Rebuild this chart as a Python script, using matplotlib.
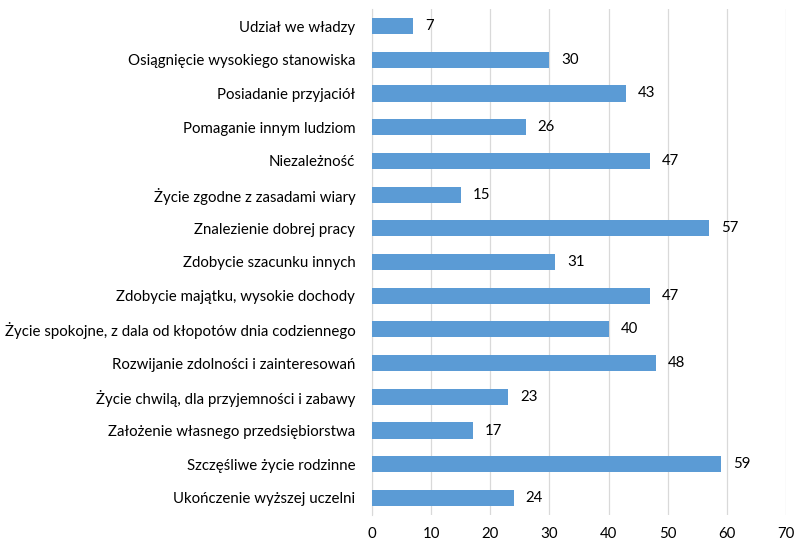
import matplotlib
matplotlib.use("Agg")
import matplotlib.pyplot as plt

# ------------- DATA -------------
categories = [
    "Udział we władzy",
    "Osiągnięcie wysokiego stanowiska",
    "Posiadanie przyjaciół",
    "Pomaganie innym ludziom",
    "Niezależność",
    "Życie zgodne z zasadami wiary",
    "Znalezienie dobrej pracy",
    "Zdobycie szacunku innych",
    "Zdobycie majątku, wysokie dochody",
    "Życie spokojne, z dala od kłopotów dnia codziennego",
    "Rozwijanie zdolności i zainteresowań",
    "Życie chwilą, dla przyjemności i zabawy",
    "Założenie własnego przedsiębiorstwa",
    "Szczęśliwe życie rodzinne",
    "Ukończenie wyższej uczelni",
]
values = [7, 30, 43, 26, 47, 15, 57, 31, 47, 40, 48, 23, 17, 59, 24]
x_ticks = [0, 10, 20, 30, 40, 50, 60, 70]
# --------------------------------

plt.rcParams["font.family"] = ["Lato", "DejaVu Sans"]

fig = plt.figure(figsize=(7.99, 5.43), dpi=100)
ax = fig.add_axes([0.4656, 0.052, 0.5181, 0.931])

pos = list(range(len(categories)))
ax.barh(pos, values, height=0.48, color="#5B9BD5", zorder=3)

for p, v in zip(pos, values):
    ax.text(v + 2.0, p, str(v), va="center", ha="left", fontsize=10.8, color="#000000")

ax.set_ylim(len(categories) - 0.5, -0.5)
ax.set_xlim(0, 70)
ax.set_yticks(pos)
ax.set_yticklabels(categories, fontsize=10.8, color="#000000")
ax.set_xticks(x_ticks)
ax.set_xticklabels([str(t) for t in x_ticks], fontsize=10.8, color="#000000")

ax.grid(axis="x", color="#D9D9D9", linewidth=0.9, zorder=0)
for s in ["top", "right", "bottom"]:
    ax.spines[s].set_visible(False)
ax.spines["left"].set_color("#D9D9D9")
ax.tick_params(axis="y", length=0, pad=12)
ax.tick_params(axis="x", length=0, pad=9)

fig.savefig("out.png", dpi=100)
